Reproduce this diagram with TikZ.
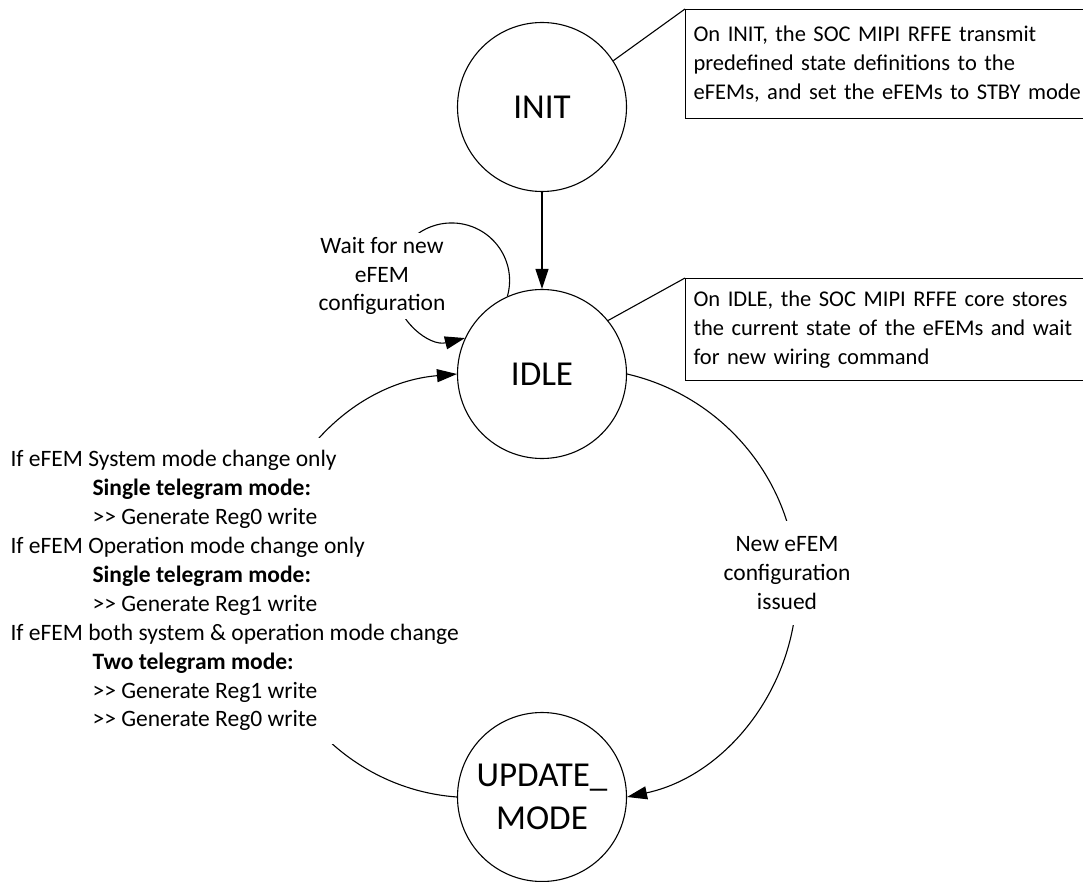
\documentclass[tikz,border=0pt]{standalone}
\usepackage{fontspec}
\setmainfont{Carlito}
\usetikzlibrary{arrows.meta}
\begin{document}
\begin{tikzpicture}[x=1pt,y=-1pt,
  line width=1.1pt,
  state/.style={circle,draw,minimum size=169pt,inner sep=0pt,
    font=\fontsize{35}{43}\selectfont,align=center},
  body/.style={font=\fontsize{23.5}{28.9}\selectfont},
  note/.style={draw,anchor=north west,align=left,text width=500pt,
    font=\fontsize{22.5}{28.9}\selectfont,inner xsep=8pt,inner ysep=0pt},
  lbl/.style={body,fill=white,align=center,inner xsep=2pt},
  arr/.style={-{Triangle[length=20pt,width=13pt]}},
]
\useasboundingbox (0,0) rectangle (1083,882);

% states
\node[state] (init) at (542,107) {INIT};
\node[state] (idle) at (542,374) {IDLE};
\node[state] (upd) at (542,797) {UPDATE\_\\MODE};

% notes
\node[note,minimum height=109pt] (initnote) at (685,9)
  {On INIT, the SOC MIPI RFFE transmit\\predefined state definitions to the\\eFEMs, and set the eFEMs to STBY mode};
\node[note,minimum height=102pt] (idlenote) at (685,278)
  {On IDLE, the SOC MIPI RFFE core stores\\the current state of the eFEMs and wait\\for new wiring command};
\draw (init.33) -- (initnote.north west);
\draw (idle.39) -- (idlenote.north west);

% transitions
\draw[arr] (init.south) -- (idle.north);
\draw[arr] (idle.114) .. controls (517.2,261.1) and (492.8,226.5) .. (456.9,223.2)
  .. controls (421.0,220.0) and (390.7,249.6) .. (393.2,285.6)
  .. controls (395.8,321.5) and (429.9,346.7) .. (idle.155);
\coordinate (lmid) at (261.5,586);
\coordinate (rmid) at (796.8,586);
\draw[arr] (upd.west) .. controls (347.5,789.1) and (261.5,696.8) .. (lmid)
  .. controls (261.5,475.2) and (346.5,383.3) .. (idle.west);
\draw[arr] (idle.east) .. controls (725.3,396.7) and (796.8,484.6) .. (rmid)
  .. controls (796.8,687.4) and (726.2,775.9) .. (upd.east);

% labels
\node[lbl,inner ysep=4pt] (waitlbl) at (382,276) {Wait for new\\eFEM\\configuration};
\node[lbl,inner ysep=15pt] (newlbl) at (787,573) {New eFEM\\configuration\\issued};
\node[body,fill=white,align=left,anchor=north west,inner xsep=0pt,inner ysep=13pt] (cond) at (10,437)
  {If eFEM System mode change only\\
   \hspace*{82pt}\textbf{Single telegram mode:}\\
   \hspace*{82pt}>{}> Generate Reg0 write\\
   If eFEM Operation mode change only\\
   \hspace*{82pt}\textbf{Single telegram mode:}\\
   \hspace*{82pt}>{}> Generate Reg1 write\\
   If eFEM both system \& operation mode change\\
   \hspace*{82pt}\textbf{Two telegram mode:}\\
   \hspace*{82pt}>{}> Generate Reg1 write\\
   \hspace*{82pt}>{}> Generate Reg0 write};
\end{tikzpicture}
\end{document}
